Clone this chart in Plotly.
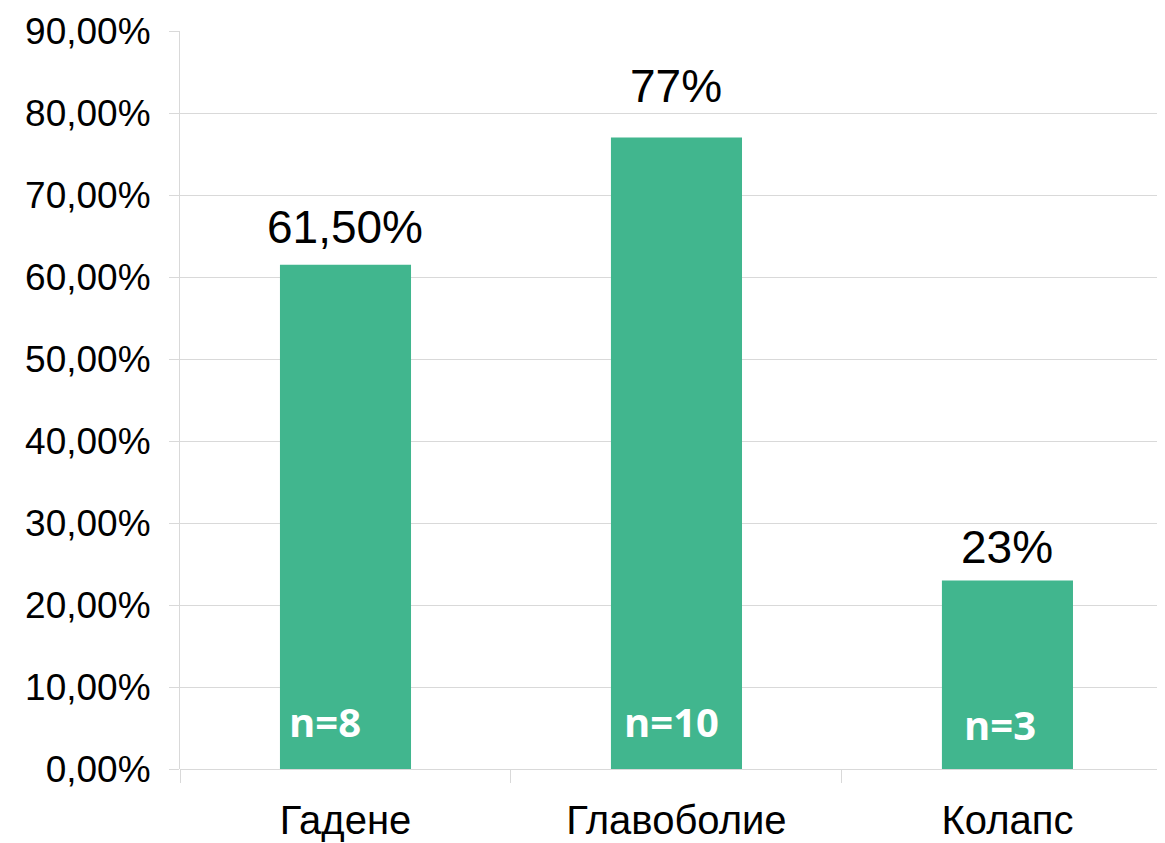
import plotly.graph_objects as go

categories = ["Гадене", "Главоболие", "Колапс"]
values = [61.5, 77, 23]
value_labels = ["61,50%", "77%", "23%"]
n_labels = ["n=8", "n=10", "n=3"]
y_tickvals = [0, 10, 20, 30, 40, 50, 60, 70, 80, 90]
y_ticktext = ["0,00%", "10,00%", "20,00%", "30,00%", "40,00%",
              "50,00%", "60,00%", "70,00%", "80,00%", "90,00%"]

# styling (pixel offsets for labels)
label_yshift = [10, 24, 5]
n_xshift = [-20, -5, -7]
n_yshift = [18, 18, 15]

BAR = "#41B68E"
GRID = "#D9D9D9"

fig = go.Figure()
fig.add_trace(go.Bar(
    x=categories, y=values, width=0.396,
    marker=dict(color=BAR, line=dict(width=0)),
    hoverinfo="skip",
))

annotations = []
for c, v, t, ys in zip(categories, values, value_labels, label_yshift):
    annotations.append(dict(
        x=c, y=v, text=t, showarrow=False, yanchor="bottom", xanchor="center",
        yshift=ys, font=dict(family="Liberation Sans, Arial", size=46, color="#000000"),
    ))
for c, t, xs, ys in zip(categories, n_labels, n_xshift, n_yshift):
    annotations.append(dict(
        x=c, y=0, text=t, showarrow=False, yanchor="bottom", xanchor="center",
        xshift=xs, yshift=ys,
        font=dict(family="Open Sans", size=40, color="#FFFFFF", weight="bold"),
    ))

fig.update_layout(
    width=1157, height=835,
    margin=dict(l=172, r=0, t=23, b=74),
    paper_bgcolor="white", plot_bgcolor="white",
    showlegend=False,
    annotations=annotations,
    xaxis=dict(
        type="category",
        range=[-0.5, 2.476],
        showgrid=False,
        showline=False,
        zeroline=False,
        ticks="outside", tickson="boundaries", ticklen=13, tickcolor=GRID, tickwidth=1,
        tickfont=dict(family="Liberation Sans, Arial", size=40, color="#000000"),
        ticklabelstandoff=24,
        fixedrange=True,
    ),
    yaxis=dict(
        range=[0, 90],
        tickvals=y_tickvals, ticktext=y_ticktext,
        showgrid=True, gridcolor=GRID, gridwidth=1,
        showline=True, linecolor=GRID, linewidth=1,
        zeroline=True, zerolinecolor=GRID, zerolinewidth=1,
        ticks="outside", ticklen=10, tickcolor=GRID, tickwidth=1,
        tickfont=dict(family="Liberation Sans, Arial", size=37, color="#000000"),
        ticklabelstandoff=11,
        fixedrange=True,
    ),
)

fig.write_html("out.html", config={"displayModeBar": False})
